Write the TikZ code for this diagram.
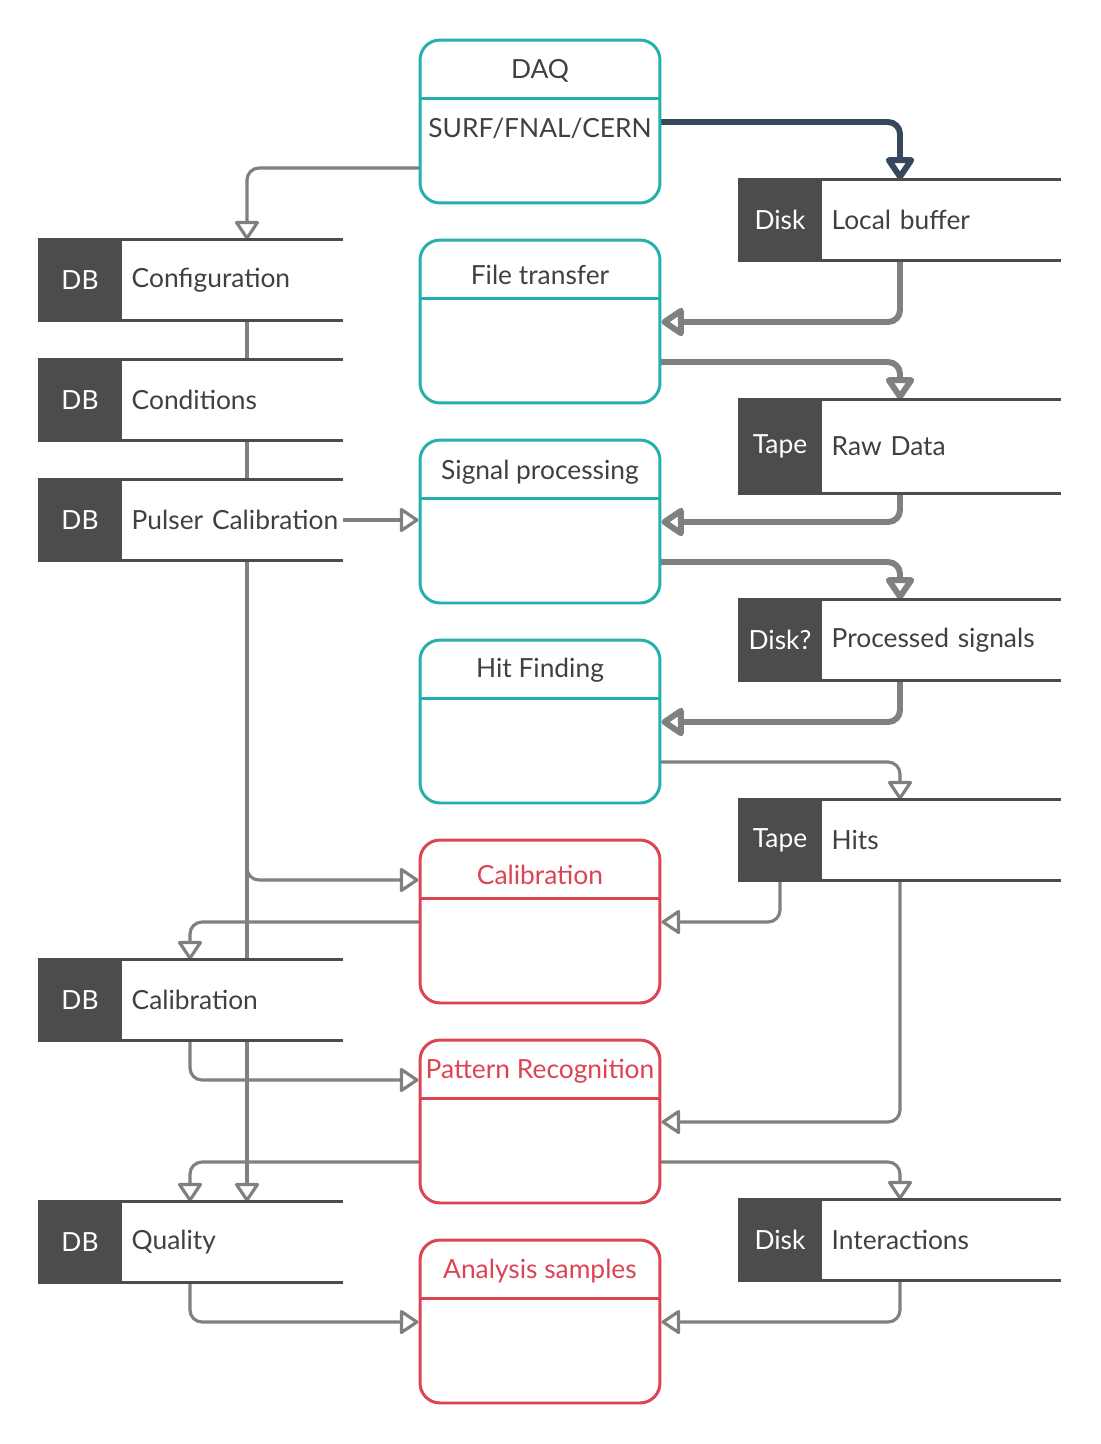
\documentclass[tikz,border=0pt]{standalone}
\usepackage{fontspec}
\setmainfont{Lato}
\usetikzlibrary{arrows.meta,backgrounds}

\definecolor{procteal}{RGB}{36,176,174}
\definecolor{procred}{RGB}{220,68,84}
\definecolor{storegray}{RGB}{76,76,76}
\definecolor{flowgray}{RGB}{128,128,128}
\definecolor{flownavy}{RGB}{54,72,94}
\definecolor{textgray}{RGB}{64,64,64}

\tikzstyle{proc}=[draw=procteal,line width=1.7pt,rounded corners=0.4cm,minimum width=4.8cm,minimum height=3.26cm,fill=white]
\tikzstyle{redproc}=[proc,draw=procred]
\tikzstyle{proctitle}=[text=textgray,inner sep=0pt,font=\fontsize{15}{18}\selectfont]
\tikzstyle{redtitle}=[proctitle,text=procred]
\tikzstyle{store}=[fill=storegray,text=white,minimum width=1.68cm,minimum height=1.6cm,inner sep=0pt,font=\fontsize{15}{18}\selectfont]
\tikzstyle{storetext}=[anchor=west,fill=white,text=textgray,minimum height=1.6cm,text width=4.04cm,inner xsep=0.18cm,inner ysep=0pt,align=left,font=\fontsize{15}{18}\selectfont]
\tikzstyle{storeline}=[draw=storegray,line width=2pt]
\tikzstyle{flow}=[draw=flowgray,line width=1.8pt,line cap=round,rounded corners=0.24cm,-{Triangle[open,round,length=0.4cm,width=0.52cm]}]
\tikzstyle{flowline}=[draw=flowgray,line width=1.8pt]
\tikzstyle{bigflow}=[flow,line width=3.4pt,-{Triangle[open,round,length=0.5cm,width=0.64cm]}]

\begin{document}
\begin{tikzpicture}[x=0.02cm,y=-0.02cm]
\useasboundingbox (0,0) rectangle (1100,1444);

% processes
\node[proc] (daq) at (540,121.5) {};
\node[proc] (ft) at (540,321.5) {};
\node[proc] (sp) at (540,521.5) {};
\node[proc] (hf) at (540,721.5) {};
\node[redproc] (cal) at (540,921.5) {};
\node[redproc] (pr) at (540,1121.5) {};
\node[redproc] (an) at (540,1321.5) {};

\foreach \p in {daq,ft,sp,hf}
  \draw[procteal,line width=1.7pt] ([yshift=-1.2cm]\p.north west) -- ([yshift=-1.2cm]\p.north east);
\foreach \p in {cal,pr,an}
  \draw[procred,line width=1.7pt] ([yshift=-1.2cm]\p.north west) -- ([yshift=-1.2cm]\p.north east);

\node[proctitle] (daqtitle) at ([yshift=-0.64cm]daq.north) {DAQ};
\node[proctitle] (daqsite) at ([yshift=-1.8cm]daq.north) {SURF/FNAL/CERN};
\node[proctitle] (fttitle) at ([yshift=-0.72cm]ft.north) {File transfer};
\node[proctitle] (sptitle) at ([yshift=-0.68cm]sp.north) {Signal processing};
\node[proctitle] (hftitle) at ([yshift=-0.64cm]hf.north) {Hit Finding};
\node[redtitle] (caltitle) at ([yshift=-0.72cm]cal.north) {Calibration};
\node[redtitle] (prtitle) at ([yshift=-0.66cm]pr.north) {Pattern Recognition};
\node[redtitle] (antitle) at ([yshift=-0.66cm]an.north) {Analysis samples};

% data stores, left
\node[store] (conf) at (80,280) {DB};
\node[storetext] (conft) at (conf.east) {Configuration};
\node[store] (cond) at (80,400) {DB};
\node[storetext] (condt) at (cond.east) {Conditions};
\node[store] (pulse) at (80,520) {DB};
\node[storetext] (pulset) at (pulse.east) {\mbox{Pulser Calibration}};
\node[store] (dbcal) at (80,1000) {DB};
\node[storetext] (dbcalt) at (dbcal.east) {Calibration};
\node[store] (qual) at (80,1242) {DB};
\node[storetext] (qualt) at (qual.east) {Quality};

% data stores, right
\node[store] (lbuf) at (780,220) {Disk};
\node[storetext,text width=4.4cm] (lbuft) at (lbuf.east) {Local buffer};
\node[store,minimum height=1.86cm] (raw) at (780,446.5) {Tape};
\node[storetext,text width=4.4cm,minimum height=1.86cm] (rawt) at (raw.east) {Raw Data};
\node[store] (proc) at (780,640) {Disk?};
\node[storetext,text width=4.4cm] (proct) at (proc.east) {Processed signals};
\node[store] (hits) at (780,840) {Tape};
\node[storetext,text width=4.4cm] (hitst) at (hits.east) {Hits};
\node[store] (inter) at (780,1240) {Disk};
\node[storetext,text width=4.4cm] (intert) at (inter.east) {Interactions};

\foreach \s in {conf,cond,pulse,dbcal,qual,lbuf,raw,proc,hits,inter} {
  \draw[storeline] (\s.north west) -- (\s t.north east);
  \draw[storeline] (\s.south west) -- (\s t.south east);
}

\begin{pgfonlayer}{background}
% left side
\draw[flow] (daq.west |- 0,168) -| (conft.north -| 247,0);
\draw[flowline] (conft.south -| 247,0) -- (condt.north -| 247,0);
\draw[flowline] (condt.south -| 247,0) -- (pulset.north -| 247,0);
\draw[flow] (pulset.south -| 247,0) -- (qualt.north -| 247,0);
\draw[flow] (pulset.south -| 247,0) |- (cal.west |- 0,880);
\draw[flow] (pulset.east) -- (sp.west |- pulset.east);
\draw[flow] (cal.west |- 0,922) -| (dbcalt.north -| 190,0);
\draw[flow] (dbcalt.south -| 190,0) |- (pr.west |- 0,1080);
\draw[flow] (pr.west |- 0,1162) -| (qualt.north -| 190,0);
\draw[flow] (qualt.south -| 190,0) |- (an.west |- 0,1322);

% right side
\draw[bigflow,draw=flownavy] (daq.east |- 0,122) -| (lbuft.north -| 900,0);
\draw[bigflow] (lbuft.south -| 900,0) |- (ft.east |- 0,322);
\draw[bigflow] (ft.east |- 0,362) -| (rawt.north -| 900,0);
\draw[bigflow] (rawt.south -| 900,0) |- (sp.east |- 0,522);
\draw[bigflow] (sp.east |- 0,562) -| (proct.north -| 900,0);
\draw[bigflow] (proct.south -| 900,0) |- (hf.east |- 0,722);
\draw[flow] (hf.east |- 0,762) -| (hitst.north -| 900,0);
\draw[flow] (hits.south) |- (cal.east |- 0,922);
\draw[flow] (hitst.south -| 900,0) |- (pr.east |- 0,1122);
\draw[flow] (pr.east |- 0,1162) -| (intert.north -| 900,0);
\draw[flow] (intert.south -| 900,0) |- (an.east |- 0,1322);
\end{pgfonlayer}
\end{tikzpicture}
\end{document}
